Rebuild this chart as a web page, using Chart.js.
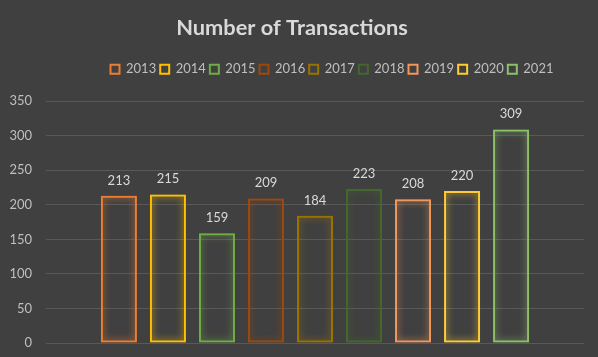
<!DOCTYPE html>
<html><head><meta charset="utf-8">
<script src="https://cdn.jsdelivr.net/npm/chart.js@4/dist/chart.umd.min.js"></script>
<style>html,body{margin:0;padding:0;background:#404040;}#wrap{width:598px;height:357px;}</style>
</head><body><div id="wrap"><canvas id="c" width="598" height="357"></canvas></div>
<script>
const years = ['2013','2014','2015','2016','2017','2018','2019','2020','2021'];
const transactions = [213,215,159,209,184,223,208,220,309];
const colors = ['#ED7D31','#FFC000','#70AD47','#9E480E','#997300','#43682B','#F1975A','#FFCD33','#8CC168'];
const yTicks = [0,50,100,150,200,250,300,350];
const FONT = 'Lato, "Open Sans", sans-serif';

const datasets = years.map((y,i)=>({
  label: y,
  data: [transactions[i]],
  backgroundColor: 'rgba(0,0,0,0)',
  borderColor: colors[i],
  borderWidth: 2,
  borderSkipped: false,
  categoryPercentage: 0.82,
  barPercentage: 0.735
}));

const glow = {
  id:'glow',
  beforeDatasetDraw(chart,args){
    const ctx=chart.ctx; ctx.save();
    ctx.shadowColor = colors[args.index];
    ctx.shadowBlur = 7;
  },
  afterDatasetDraw(chart){ chart.ctx.restore(); }
};
const labels = {
  id:'vlabels',
  afterDatasetsDraw(chart){
    const ctx=chart.ctx; ctx.save();
    ctx.font = '13px '+FONT; ctx.fillStyle='#D9D9D9';
    ctx.textAlign='center'; ctx.textBaseline='bottom';
    chart.data.datasets.forEach((ds,i)=>{
      const el = chart.getDatasetMeta(i).data[0];
      ctx.fillText(String(ds.data[0]), el.x, el.y-9);
    });
    ctx.restore();
  }
};
const legendTweak = {
  id:'legendTweak',
  beforeLayout(chart){
    const lg = chart.legend;
    if (lg && !lg._extraH) {
      const f = lg.fit.bind(lg);
      lg.fit = function(){ f(); this.height += 15.5; };
      lg._extraH = true;
    }
  },
  afterLayout(chart){ chart.legend.left += 40; chart.legend.right += 40; }
};

new Chart(document.getElementById('c'),{
  type:'bar',
  data:{labels:[''],datasets},
  options:{
    responsive:false, animation:false,
    layout:{padding:{left:0,right:14,top:8,bottom:14}},
    plugins:{
      title:{display:true,text:'Number of Transactions',color:'#D9D9D9',
        font:{family:FONT,size:21.8,weight:'bold'},padding:{top:7,bottom:17.5}},
      legend:{display:true,position:'top',
        labels:{color:'#BFBFBF',font:{family:FONT,size:13},boxWidth:9,boxHeight:9,padding:4,
          generateLabels(chart){
            return chart.data.datasets.map((ds,i)=>({text:ds.label,fillStyle:'rgba(0,0,0,0)',strokeStyle:colors[i],lineWidth:2,fontColor:'#BFBFBF',datasetIndex:i,hidden:false}));
          }}},
      tooltip:{enabled:false}
    },
    scales:{
      x:{display:false},
      y:{min:0,max:350,
        afterBuildTicks(s){s.ticks=yTicks.map(v=>({value:v}));},
        afterFit(s){s.width=46; s.paddingBottom=0; s.paddingTop=0;},
        grid:{color:'#595959',drawTicks:false,lineWidth:1},
        border:{display:false},
        ticks:{color:'#BFBFBF',font:{family:FONT,size:13},padding:14}}
    }
  },
  plugins:[glow,labels,legendTweak]
});
</script></body></html>
